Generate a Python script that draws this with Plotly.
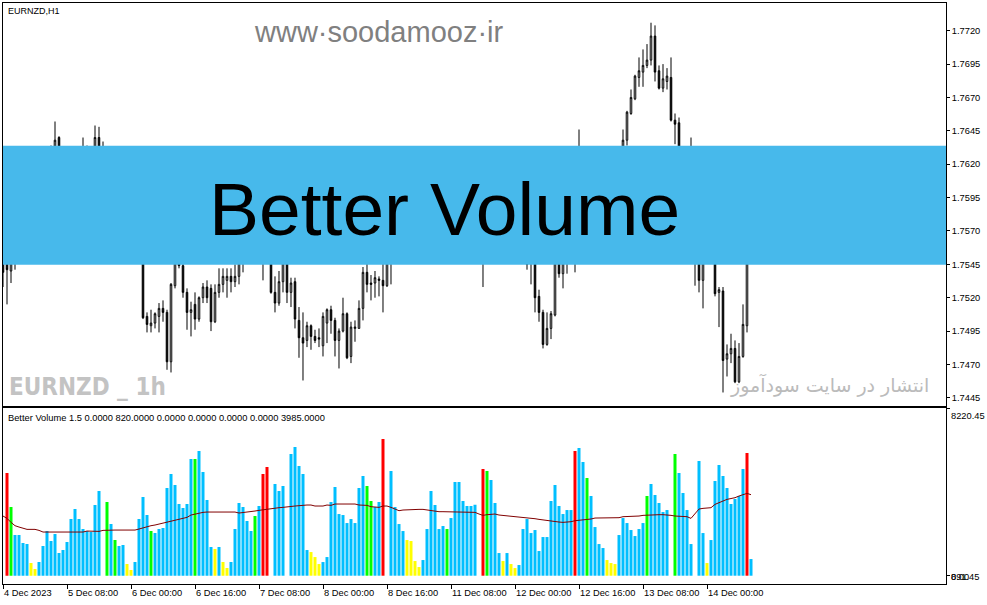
import plotly.graph_objects as go

W, H = 987, 605

# ---------------- price data (hourly bars, index 0 = 4 Dec 16:00) ----------------
bar_index = list(range(188))

open_ = [
    1.7556, 1.7547, 1.7540, 1.7547, 1.7554, 1.7567, 1.7578, 1.7590, 1.7597, 1.7607,
    1.7616, 1.7623, 1.7629, 1.7631, 1.7640, 1.7629, 1.7619, 1.7623, 1.7617, 1.7625,
    1.7631, 1.7627, 1.7629, 1.7631, 1.7640, 1.7627, 1.7619, 1.7608, 1.7597, 1.7601,
    1.7587, 1.7580, 1.7572, 1.7577, 1.7560, 1.7567, 1.7506, 1.7499, 1.7501, 1.7506,
    1.7512, 1.7509, 1.7472, 1.7529, 1.7548, 1.7544, 1.7524, 1.7509, 1.7515, 1.7504,
    1.7520, 1.7528, 1.7527, 1.7502, 1.7524, 1.7530, 1.7533, 1.7536, 1.7532, 1.7536,
    1.7550, 1.7560, 1.7571, 1.7577, 1.7582, 1.7575, 1.7556, 1.7563, 1.7524, 1.7516,
    1.7532, 1.7550, 1.7524, 1.7532, 1.7503, 1.7490, 1.7488, 1.7499, 1.7491, 1.7490,
    1.7484, 1.7501, 1.7511, 1.7503, 1.7488, 1.7495, 1.7508, 1.7476, 1.7497, 1.7497,
    1.7512, 1.7539, 1.7531, 1.7531, 1.7534, 1.7533, 1.7529, 1.7550, 1.7560, 1.7567,
    1.7572, 1.7577, 1.7580, 1.7586, 1.7582, 1.7578, 1.7590, 1.7597, 1.7593, 1.7601,
    1.7595, 1.7587, 1.7593, 1.7586, 1.7578, 1.7584, 1.7575, 1.7569, 1.7563, 1.7567,
    1.7560, 1.7552, 1.7563, 1.7572, 1.7580, 1.7590, 1.7584, 1.7592, 1.7587, 1.7582,
    1.7572, 1.7556, 1.7550, 1.7552, 1.7521, 1.7509, 1.7485, 1.7497, 1.7507, 1.7547,
    1.7538, 1.7547, 1.7552, 1.7557, 1.7567, 1.7575, 1.7582, 1.7586, 1.7595, 1.7597,
    1.7602, 1.7608, 1.7612, 1.7617, 1.7622, 1.7625, 1.7638, 1.7658, 1.7669, 1.7685,
    1.7689, 1.7694, 1.7698, 1.7716, 1.7690, 1.7677, 1.7682, 1.7685, 1.7653, 1.7651,
    1.7619, 1.7608, 1.7597, 1.7590, 1.7563, 1.7533, 1.7552, 1.7560, 1.7556, 1.7524,
    1.7525, 1.7474, 1.7478, 1.7482, 1.7457, 1.7476, 1.7499, 1.7552,
]
high = [
    1.7565, 1.7556, 1.7552, 1.7560, 1.7572, 1.7582, 1.7593, 1.7604, 1.7610, 1.7619,
    1.7627, 1.7632, 1.7634, 1.7652, 1.7641, 1.7632, 1.7629, 1.7631, 1.7627, 1.7632,
    1.7640, 1.7634, 1.7633, 1.7649, 1.7648, 1.7637, 1.7627, 1.7616, 1.7608, 1.7607,
    1.7597, 1.7590, 1.7582, 1.7584, 1.7572, 1.7575, 1.7509, 1.7511, 1.7509, 1.7516,
    1.7518, 1.7511, 1.7531, 1.7556, 1.7556, 1.7550, 1.7527, 1.7517, 1.7524, 1.7521,
    1.7531, 1.7533, 1.7530, 1.7530, 1.7542, 1.7542, 1.7542, 1.7542, 1.7545, 1.7557,
    1.7567, 1.7575, 1.7582, 1.7590, 1.7593, 1.7586, 1.7567, 1.7571, 1.7536, 1.7540,
    1.7556, 1.7556, 1.7535, 1.7535, 1.7513, 1.7509, 1.7502, 1.7500, 1.7496, 1.7497,
    1.7509, 1.7512, 1.7514, 1.7505, 1.7497, 1.7520, 1.7509, 1.7502, 1.7503, 1.7518,
    1.7543, 1.7547, 1.7537, 1.7540, 1.7536, 1.7547, 1.7556, 1.7563, 1.7571, 1.7578,
    1.7582, 1.7586, 1.7590, 1.7595, 1.7590, 1.7593, 1.7601, 1.7608, 1.7604, 1.7610,
    1.7604, 1.7597, 1.7602, 1.7597, 1.7590, 1.7593, 1.7586, 1.7580, 1.7575, 1.7577,
    1.7571, 1.7567, 1.7577, 1.7584, 1.7593, 1.7597, 1.7595, 1.7601, 1.7597, 1.7590,
    1.7582, 1.7565, 1.7560, 1.7560, 1.7526, 1.7511, 1.7509, 1.7510, 1.7552, 1.7556,
    1.7556, 1.7560, 1.7563, 1.7567, 1.7646, 1.7590, 1.7593, 1.7601, 1.7604, 1.7608,
    1.7614, 1.7619, 1.7623, 1.7627, 1.7631, 1.7646, 1.7660, 1.7676, 1.7687, 1.7700,
    1.7706, 1.7710, 1.7726, 1.7724, 1.7694, 1.7695, 1.7692, 1.7700, 1.7658, 1.7655,
    1.7631, 1.7619, 1.7640, 1.7597, 1.7575, 1.7560, 1.7567, 1.7567, 1.7563, 1.7528,
    1.7528, 1.7485, 1.7493, 1.7488, 1.7486, 1.7515, 1.7556, 1.7563,
]
low = [
    1.7528, 1.7515, 1.7531, 1.7541, 1.7547, 1.7556, 1.7569, 1.7582, 1.7590, 1.7599,
    1.7608, 1.7614, 1.7619, 1.7625, 1.7623, 1.7614, 1.7610, 1.7612, 1.7608, 1.7616,
    1.7622, 1.7617, 1.7619, 1.7625, 1.7623, 1.7616, 1.7604, 1.7593, 1.7586, 1.7582,
    1.7575, 1.7567, 1.7563, 1.7556, 1.7550, 1.7504, 1.7494, 1.7494, 1.7497, 1.7494,
    1.7502, 1.7466, 1.7464, 1.7527, 1.7542, 1.7520, 1.7496, 1.7491, 1.7496, 1.7502,
    1.7516, 1.7516, 1.7495, 1.7501, 1.7520, 1.7524, 1.7520, 1.7524, 1.7528, 1.7530,
    1.7539, 1.7550, 1.7560, 1.7563, 1.7567, 1.7533, 1.7547, 1.7523, 1.7509, 1.7514,
    1.7524, 1.7516, 1.7513, 1.7497, 1.7475, 1.7458, 1.7483, 1.7481, 1.7486, 1.7483,
    1.7476, 1.7486, 1.7493, 1.7476, 1.7467, 1.7494, 1.7474, 1.7471, 1.7487, 1.7497,
    1.7503, 1.7524, 1.7518, 1.7520, 1.7521, 1.7509, 1.7528, 1.7530, 1.7552, 1.7557,
    1.7563, 1.7569, 1.7571, 1.7577, 1.7572, 1.7571, 1.7582, 1.7586, 1.7584, 1.7590,
    1.7582, 1.7577, 1.7582, 1.7575, 1.7567, 1.7572, 1.7563, 1.7557, 1.7554, 1.7556,
    1.7528, 1.7547, 1.7554, 1.7563, 1.7569, 1.7578, 1.7575, 1.7582, 1.7577, 1.7567,
    1.7556, 1.7541, 1.7530, 1.7509, 1.7502, 1.7482, 1.7484, 1.7489, 1.7506, 1.7535,
    1.7527, 1.7538, 1.7547, 1.7539, 1.7560, 1.7565, 1.7571, 1.7577, 1.7584, 1.7587,
    1.7593, 1.7599, 1.7602, 1.7608, 1.7612, 1.7619, 1.7634, 1.7657, 1.7668, 1.7678,
    1.7678, 1.7692, 1.7694, 1.7682, 1.7676, 1.7674, 1.7676, 1.7652, 1.7635, 1.7616,
    1.7601, 1.7590, 1.7582, 1.7529, 1.7524, 1.7512, 1.7547, 1.7548, 1.7521, 1.7498,
    1.7449, 1.7461, 1.7471, 1.7456, 1.7456, 1.7475, 1.7494, 1.7547,
]
close = [
    1.7539, 1.7541, 1.7547, 1.7554, 1.7567, 1.7578, 1.7590, 1.7597, 1.7607, 1.7616,
    1.7623, 1.7629, 1.7631, 1.7638, 1.7629, 1.7619, 1.7623, 1.7617, 1.7625, 1.7631,
    1.7627, 1.7629, 1.7631, 1.7640, 1.7627, 1.7619, 1.7608, 1.7597, 1.7601, 1.7587,
    1.7580, 1.7572, 1.7577, 1.7560, 1.7567, 1.7505, 1.7500, 1.7501, 1.7508, 1.7512,
    1.7509, 1.7472, 1.7530, 1.7550, 1.7544, 1.7524, 1.7509, 1.7511, 1.7504, 1.7520,
    1.7528, 1.7520, 1.7502, 1.7524, 1.7530, 1.7536, 1.7536, 1.7532, 1.7536, 1.7550,
    1.7560, 1.7571, 1.7577, 1.7582, 1.7575, 1.7556, 1.7563, 1.7524, 1.7516, 1.7532,
    1.7550, 1.7524, 1.7531, 1.7504, 1.7490, 1.7486, 1.7499, 1.7491, 1.7488, 1.7489,
    1.7506, 1.7511, 1.7503, 1.7488, 1.7495, 1.7508, 1.7475, 1.7498, 1.7498, 1.7512,
    1.7539, 1.7530, 1.7530, 1.7535, 1.7533, 1.7529, 1.7552, 1.7560, 1.7567, 1.7572,
    1.7577, 1.7580, 1.7586, 1.7582, 1.7578, 1.7590, 1.7597, 1.7593, 1.7601, 1.7595,
    1.7587, 1.7593, 1.7586, 1.7578, 1.7584, 1.7575, 1.7569, 1.7563, 1.7567, 1.7560,
    1.7552, 1.7563, 1.7572, 1.7580, 1.7590, 1.7584, 1.7592, 1.7587, 1.7582, 1.7572,
    1.7560, 1.7545, 1.7547, 1.7520, 1.7509, 1.7485, 1.7497, 1.7508, 1.7547, 1.7538,
    1.7547, 1.7552, 1.7557, 1.7563, 1.7575, 1.7582, 1.7586, 1.7595, 1.7597, 1.7602,
    1.7608, 1.7612, 1.7617, 1.7622, 1.7625, 1.7638, 1.7659, 1.7670, 1.7686, 1.7690,
    1.7694, 1.7698, 1.7716, 1.7689, 1.7677, 1.7684, 1.7686, 1.7653, 1.7650, 1.7619,
    1.7608, 1.7597, 1.7590, 1.7563, 1.7533, 1.7552, 1.7560, 1.7556, 1.7523, 1.7526,
    1.7473, 1.7478, 1.7482, 1.7457, 1.7476, 1.7500, 1.7552, 1.7557,
]

# ---------------- Better Volume data ----------------
volume_index = list(range(1, 188))
volume = [
    5051, 3378, 2001, 2001, 1607, 1558, 623, 328, 672, 1460,
    2198, 1706, 2050, 1115, 1263, 1656, 2788, 3280, 2788, 2296,
    2198, 2148, 3477, 4166, 1500, 3624, 2542, 1755, 1460, 1509,
    574, 279, 672, 2788, 3870, 2985, 2198, 2099, 2296, 2345,
    4313, 5002, 4461, 3526, 3329, 3526, 5740, 5740, 6134, 5100,
    3723, 1410, 1312, 1410, 672, 377, 672, 2296, 3575, 3378,
    2690, 2198, 2936, 3428, 5002, 5346, 3000, 4510, 4166, 4412,
    2500, 5986, 6330, 5396, 5002, 1263, 1164, 918, 574, 672,
    918, 3624, 4362, 3034, 2985, 2591, 2788, 2591, 4313, 4904,
    4412, 3674, 3378, 3624, 6724, 3000, 5150, 3378, 2542, 2198,
    1755, 1706, 722, 426, 771, 2296, 4166, 3477, 2296, 2444,
    2296, 2837, 4608, 4608, 3674, 3428, 3428, 3493, 2500, 5248,
    5150, 4707, 3575, 1115, 722, 1115, 574, 377, 525, 2296,
    2788, 2099, 2247, 1214, 1902, 1902, 3674, 4461, 3428, 3034,
    3231, 3231, 6134, 6281, 5592, 4805, 3920, 2394, 1558, 1361,
    771, 623, 574, 2001, 2837, 2591, 2247, 1952, 2296, 2591,
    3920, 4510, 3969, 3575, 3132, 3231, 3000, 5986, 5051, 4067,
    3231, 1558, 2500, 5642, 2099, 623, 1755, 4658, 5445, 4904,
    4313, 3526, 3772, 3920, 5248, 6035, 820,
]
volume_class = list(
    "rgbbbbyybb"
    "bbbbbbbbbb"
    "bbbbwgbgbb"
    "yybbbbgbbb"
    "bbbbbbbgbb"
    "bbybyybbbb"
    "bbgbrrwbbb"
    "wbbbbbyyyb"
    "bbbbbbbbbb"
    "ggbbrwbbbb"
    "yyyybbbbbb"
    "gbbbbbbbwr"
    "gbbbybyybb"
    "bbbbbbbbbb"
    "bbrbbgbbbb"
    "yyybbbbbbb"
    "gbbbbbwgbb"
    "bbwbbybbbb"
    "bbbbbrb"
)
volume_ma = [
    2936, 2821, 2624, 2460, 2394, 2329, 2280, 2280, 2280, 2230,
    2148, 2148, 2148, 2148, 2148, 2148, 2148, 2148, 2148, 2148,
    2148, 2197, 2197, 2180, 2180, 2230, 2246, 2246, 2246, 2246,
    2246, 2246, 2246, 2246, 2296, 2361, 2394, 2460, 2493, 2542,
    2575, 2624, 2690, 2723, 2788, 2821, 2870, 2985, 3034, 3083,
    3116, 3132, 3132, 3132, 3132, 3132, 3132, 3132, 3132, 3083,
    3100, 3116, 3150, 3182, 3215, 3247, 3264, 3280, 3313, 3346,
    3362, 3395, 3411, 3428, 3444, 3477, 3477, 3477, 3428, 3428,
    3428, 3477, 3460, 3526, 3526, 3526, 3559, 3559, 3526, 3477,
    3477, 3460, 3395, 3362, 3362, 3428, 3428, 3362, 3280, 3198,
    3231, 3247, 3264, 3264, 3264, 3264, 3231, 3214, 3182, 3149,
    3149, 3149, 3149, 3149, 3116, 3116, 3116, 3116, 3116, 3034,
    2968, 3001, 3018, 3034, 2985, 2968, 2936, 2919, 2903, 2886,
    2870, 2870, 2837, 2804, 2772, 2739, 2706, 2673, 2657, 2640,
    2624, 2624, 2657, 2706, 2722, 2739, 2755, 2788, 2837, 2837,
    2837, 2837, 2854, 2854, 2854, 2903, 2903, 2903, 2919, 2936,
    2968, 2985, 3001, 3001, 3001, 3001, 3001, 2968, 2936, 2936,
    2936, 2903, 2821, 3067, 3280, 3313, 3313, 3346, 3510, 3608,
    3674, 3756, 3788, 3838, 3920, 3969, 4050, 3985,
]

# ---------------- axis labels ----------------
time_tick_index = [0, 16, 32, 48, 64, 80, 96, 112, 128, 144, 160, 176]
time_tick_text = ["4 Dec 2023", "5 Dec 08:00", "6 Dec 00:00", "6 Dec 16:00",
                  "7 Dec 08:00", "8 Dec 00:00", "8 Dec 16:00", "11 Dec 08:00",
                  "12 Dec 00:00", "12 Dec 16:00", "13 Dec 08:00", "14 Dec 00:00"]
price_ticks = [1.7445, 1.7470, 1.7495, 1.7520, 1.7545, 1.7570,
               1.7595, 1.7620, 1.7645, 1.7670, 1.7695, 1.7720]
volume_max_label = 8220.45
indicator_header = "Better Volume 1.5 0.0000 820.0000 0.0000 0.0000 0.0000 0.0000 3985.0000"

# ---------------- styling ----------------
palette = {"b": "#00BFFF", "r": "#FF0000", "g": "#00FF00", "y": "#FFFF00", "w": "#FFFFFF"}
FONT = "Liberation Sans, Arial, sans-serif"


def px(x):
    return x / W


def py(y):
    return 1 - y / H


fig = go.Figure()

fig.add_trace(go.Candlestick(
    x=bar_index, open=open_, high=high, low=low, close=close,
    increasing=dict(line=dict(color="black", width=1), fillcolor="white"),
    decreasing=dict(line=dict(color="black", width=1), fillcolor="black"),
    whiskerwidth=0, hoverinfo="skip", xaxis="x", yaxis="y",
))

fig.add_trace(go.Bar(
    x=volume_index, y=volume,
    marker=dict(color=[palette[c] for c in volume_class], line=dict(width=0)),
    width=0.75, hoverinfo="skip", xaxis="x2", yaxis="y2",
))

fig.add_trace(go.Scatter(
    x=bar_index, y=volume_ma, mode="lines",
    line=dict(color="#800000", width=1), hoverinfo="skip",
    xaxis="x2", yaxis="y2",
))

xdom = [px(2.7), px(946)]
xrange = [-0.075, 235.75]

fig.update_layout(
    width=W, height=H,
    margin=dict(l=0, r=0, t=0, b=0, autoexpand=False),
    paper_bgcolor="white", plot_bgcolor="white",
    showlegend=False, boxgap=0.45,
    font=dict(family=FONT, size=9.3, color="black"),
    xaxis=dict(domain=xdom, range=xrange, anchor="y", showticklabels=False,
               showgrid=False, zeroline=False, showline=True, mirror=True,
               linecolor="black", linewidth=1, ticks="", automargin=False,
               rangeslider=dict(visible=False)),
    yaxis=dict(domain=[py(405.7), py(2.7)], range=[1.74391, 1.77410], side="right",
               anchor="x", tickvals=price_ticks,
               ticktext=["%.4f" % v for v in price_ticks],
               ticks="outside", ticklen=3, tickcolor="black", automargin=False,
               showgrid=False, zeroline=False, showline=True, mirror=True,
               linecolor="black", linewidth=1,
               tickfont=dict(family=FONT, size=9.3, color="black")),
    xaxis2=dict(domain=xdom, range=xrange, anchor="y2", tickvals=time_tick_index,
                ticktext=time_tick_text, ticks="outside", ticklen=4, tickcolor="black",
                ticklabelposition="outside right", tickangle=0, automargin=False,
                showgrid=False, zeroline=False, showline=True, mirror=True,
                linecolor="black", linewidth=1,
                tickfont=dict(family=FONT, size=9.3, color="black")),
    yaxis2=dict(domain=[py(584), py(407.7)], range=[-408, 8265], side="right",
                anchor="x2", tickvals=[0, volume_max_label], showticklabels=False,
                ticks="outside", ticklen=3, tickcolor="black", automargin=False,
                showgrid=False, zeroline=False, showline=True, mirror=True,
                linecolor="black", linewidth=1),
)

# blue banner over the price panel
fig.add_shape(type="rect", xref="paper", yref="paper",
              x0=px(3), x1=px(946), y0=py(264.7), y1=py(145.7),
              fillcolor="#47B9EB", line=dict(width=0), layer="above")


def text(s, x, y, size, color="black", xanchor="left", bold=False, family=FONT):
    fig.add_annotation(text=("<b>%s</b>" % s) if bold else s, x=px(x), y=py(y),
                       xref="paper", yref="paper", xanchor=xanchor, yanchor="middle",
                       showarrow=False, font=dict(family=family, size=size, color=color))


text("EURNZD,H1", 6, 11, 9)
text("www·soodamooz·ir", 252, 32, 29, color="#808080")
text("Better Volume", 444, 209, 75, xanchor="center")
text("EURNZD _ 1h", 7, 387, 24, color="#C3C3C3", bold=True,
     family="DejaVu Sans Condensed, Liberation Sans Narrow, sans-serif")
text("انتشار در سایت سودآموز", 931, 385, 19, color="#BBBBBB", xanchor="right",
     family="DejaVu Sans, sans-serif")
text(indicator_header, 6, 417.5, 9.3)
text("%.2f" % volume_max_label, 949, 415.7, 9.3)
text("891.45", 949, 577, 9.3)
text("0.00", 949, 577, 9.3)

fig.write_html("out.html", config={"displayModeBar": False},
               post_script="document.body.style.margin='0';document.body.style.overflow='hidden';")
